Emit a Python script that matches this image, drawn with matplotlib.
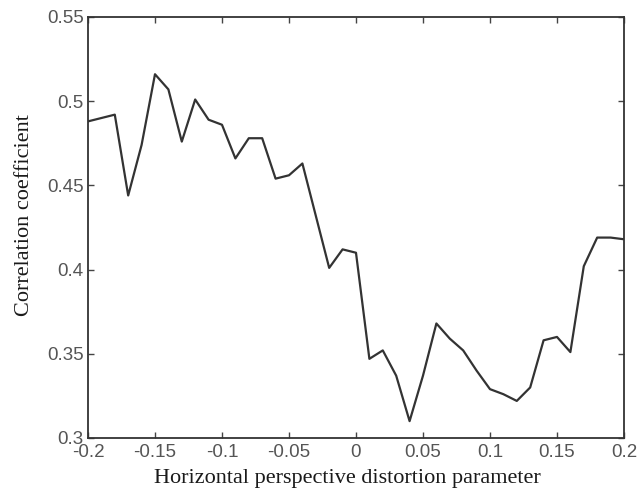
import numpy as np
import matplotlib.pyplot as plt

# distortion parameter sweep, step 0.01
param = np.round(np.arange(-0.20, 0.2001, 0.01), 2)
corr = [0.488, 0.490, 0.492, 0.444, 0.474, 0.516, 0.507, 0.476, 0.501, 0.489,
        0.486, 0.466, 0.478, 0.478, 0.454, 0.456, 0.463, 0.432, 0.401, 0.412,
        0.410, 0.347, 0.352, 0.337, 0.310, 0.337, 0.368, 0.359, 0.352, 0.340,
        0.329, 0.326, 0.322, 0.330, 0.358, 0.360, 0.351, 0.402, 0.419, 0.419,
        0.418]

xticks = [-0.2, -0.15, -0.1, -0.05, 0, 0.05, 0.1, 0.15, 0.2]
xticklabels = ['-0.2', '-0.15', '-0.1', '-0.05', '0', '0.05', '0.1', '0.15', '0.2']
yticks = [0.3, 0.35, 0.4, 0.45, 0.5, 0.55]
yticklabels = ['0.3', '0.35', '0.4', '0.45', '0.5', '0.55']

fig = plt.figure(figsize=(6.39, 4.95), dpi=100)
ax = fig.add_axes([0.1377, 0.1152, 0.8388, 0.8505])

ax.plot(param, corr, color='#333333', linewidth=1.6)

ax.set_xlim(-0.2, 0.2)
ax.set_ylim(0.3, 0.55)
ax.set_xticks(xticks)
ax.set_xticklabels(xticklabels, family='Liberation Sans', fontsize=13.5, color='#555555')
ax.set_yticks(yticks)
ax.set_yticklabels(yticklabels, family='Liberation Sans', fontsize=13.5, color='#555555')
ax.tick_params(axis='x', pad=4)
ax.tick_params(axis='y', pad=3)
ax.tick_params(direction='in', length=4, width=1, color='#444444',
               top=True, right=True)

for s in ax.spines.values():
    s.set_color('#333333')
    s.set_linewidth(1.3)

ax.set_xlabel('Horizontal perspective distortion parameter',
              family='Liberation Serif', fontsize=16, color='#1a1a1a')
ax.set_ylabel('Correlation coefficient',
              family='Liberation Serif', fontsize=16, color='#1a1a1a')
ax.xaxis.set_label_coords(0.484, -0.074)
ax.yaxis.set_label_coords(-0.100, 0.53)

plt.savefig('out.png', dpi=100)
